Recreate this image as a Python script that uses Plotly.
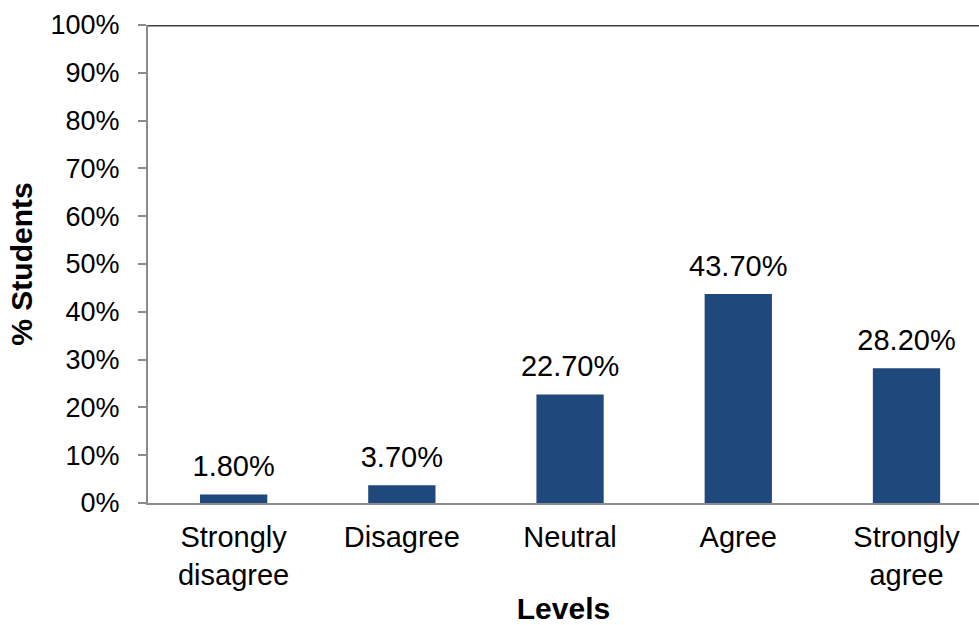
import plotly.graph_objects as go

categories = ["Strongly<br>disagree", "Disagree", "Neutral", "Agree", "Strongly<br>agree"]
values = [0.018, 0.037, 0.227, 0.437, 0.282]
y_ticks = [0, 0.1, 0.2, 0.3, 0.4, 0.5, 0.6, 0.7, 0.8, 0.9, 1.0]

FONT = "Liberation Sans, Arial, sans-serif"
xpos = list(range(len(categories)))

fig = go.Figure()
fig.add_trace(go.Bar(
    x=xpos,
    y=values,
    width=0.4,
    marker=dict(color="#1F497D", line=dict(width=0)),
    hoverinfo="skip",
))
fig.add_trace(go.Scatter(
    x=xpos,
    y=values,
    mode="markers+text",
    marker=dict(size=16, color="rgba(0,0,0,0)"),
    text=[f"{v*100:.2f}%" for v in values],
    textposition="top center",
    textfont=dict(family=FONT, size=29, color="#000000"),
    cliponaxis=False,
    hoverinfo="skip",
))

fig.update_layout(
    width=979, height=625,
    margin=dict(l=148, r=0, t=25, b=122),
    paper_bgcolor="white", plot_bgcolor="white",
    showlegend=False,
    font=dict(family=FONT, size=27, color="#000000"),
)

fig.update_xaxes(
    range=[-0.509, 4.431],
    automargin=False,
    tickmode="array",
    tickvals=xpos,
    ticktext=categories,
    showgrid=False, zeroline=False,
    showline=True, linecolor="#8C8C8C", linewidth=2,
    ticks="",
    ticklabelstandoff=7,
    tickfont=dict(family=FONT, size=29, color="#000000"),
    title=dict(text="<b>Levels</b>", font=dict(family=FONT, size=30, color="#000000"), standoff=16),
)

fig.update_yaxes(
    range=[0, 1],
    automargin=False,
    tickmode="array",
    tickvals=y_ticks,
    tickformat=".0%",
    showgrid=False, zeroline=False,
    showline=True, linecolor="#8C8C8C", linewidth=2,
    ticks="outside", ticklen=8, tickwidth=2, tickcolor="#8C8C8C",
    ticklabelstandoff=13,
    tickfont=dict(family=FONT, size=27, color="#000000"),
    title=dict(text="<b>% Students</b>", font=dict(family=FONT, size=30, color="#000000"), standoff=9),
)

fig.add_shape(type="line", xref="paper", yref="y", x0=0, x1=1, y0=1, y1=1,
              line=dict(color="#3F3F3F", width=3))

fig.write_html(
    "out.html",
    config={"displayModeBar": False},
    post_script="document.body.style.margin='0';document.body.style.overflow='hidden';",
)
